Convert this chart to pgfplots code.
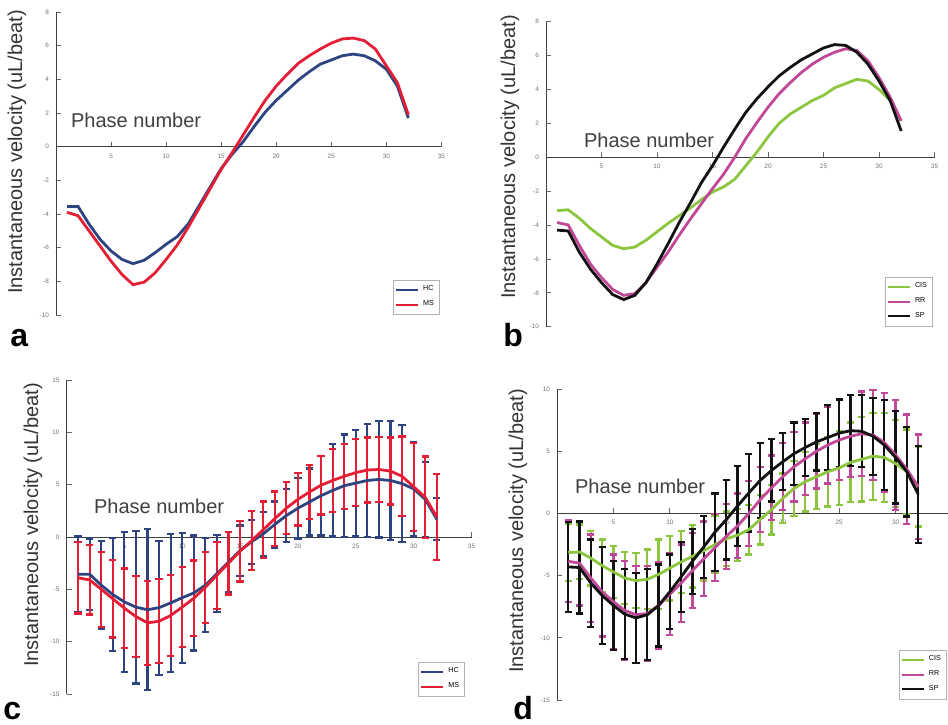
\documentclass[border=0pt]{standalone}
\usepackage{fontspec}
\setmainfont{Liberation Sans}
\usepackage{pgfplots}
\usepackage{pgfplotstable}
\pgfplotsset{compat=1.18}

\definecolor{hc}{RGB}{45,68,128}
\definecolor{ms}{RGB}{228,30,52}
\definecolor{cis}{RGB}{140,198,62}
\definecolor{rr}{RGB}{192,72,152}
\definecolor{sp}{RGB}{18,18,18}

% phase, mean and SD per group (uL/beat)
\pgfplotstableread{
x hc hce ms mse
1 -3.55 3.6 -3.9 3.4
2 -3.55 3.4 -4.1 3.3
3 -4.6 4.2 -5.0 3.6
4 -5.5 5.4 -5.9 3.7
5 -6.2 6.7 -6.8 3.8
6 -6.7 7.3 -7.6 3.9
7 -6.95 7.7 -8.2 4.0
8 -6.75 6.4 -8.05 4.0
9 -6.3 6.6 -7.5 3.9
10 -5.8 6.2 -6.7 3.8
11 -5.35 5.5 -5.85 3.6
12 -4.6 4.5 -4.8 3.4
13 -3.5 3.7 -3.65 3.2
14 -2.4 2.9 -2.5 3.0
15 -1.3 2.4 -1.35 2.9
16 -0.45 2.1 -0.35 2.8
17 0.3 2.1 0.7 2.7
18 1.2 2.2 1.75 2.6
19 2.05 2.5 2.75 2.5
20 2.75 2.9 3.6 2.5
21 3.35 3.2 4.3 2.6
22 3.95 3.8 4.95 2.8
23 4.45 4.4 5.4 3.0
24 4.9 4.9 5.8 3.1
25 5.15 5.1 6.15 3.2
26 5.4 5.4 6.4 3.1
27 5.5 5.55 6.45 3.1
28 5.4 5.7 6.3 3.2
29 5.1 5.6 5.8 3.8
30 4.6 4.5 4.8 4.2
31 3.6 3.6 3.8 3.9
32 1.7 2.0 1.9 4.1
}\groupA

\pgfplotstableread{
x cis cise rr rre sp spe
1 -3.15 2.3 -3.85 3.3 -4.3 3.6
2 -3.1 2.2 -4.0 3.4 -4.35 3.7
3 -3.6 2.2 -5.2 3.5 -5.6 3.5
4 -4.2 2.1 -6.3 3.6 -6.6 3.9
5 -4.7 2.1 -7.1 3.8 -7.4 3.6
6 -5.2 2.1 -7.8 4.0 -8.1 3.6
7 -5.4 2.2 -8.15 3.9 -8.4 3.6
8 -5.3 2.4 -8.05 3.8 -8.15 3.65
9 -4.9 2.8 -7.4 3.5 -7.4 3.3
10 -4.4 2.6 -6.5 3.3 -6.3 3.0
11 -3.9 2.5 -5.6 3.1 -5.1 2.8
12 -3.45 2.5 -4.6 3.0 -3.85 2.6
13 -3.0 2.4 -3.65 3.0 -2.7 2.5
14 -2.5 2.3 -2.75 2.7 -1.5 3.1
15 -2.05 2.2 -1.85 2.6 -0.5 3.2
16 -1.75 2.1 -1.0 2.6 0.6 3.2
17 -1.3 2.0 0.0 2.6 1.65 3.1
18 -0.5 2.0 1.1 2.6 2.65 3.0
19 0.3 2.0 2.05 2.6 3.45 2.5
20 1.2 2.0 2.95 2.7 4.15 2.3
21 2.0 2.2 3.75 2.8 4.8 2.5
22 2.55 2.4 4.4 2.9 5.3 2.3
23 2.95 2.6 5.0 3.0 5.75 2.3
24 3.35 2.8 5.5 3.1 6.1 2.6
25 3.65 3.0 5.9 3.2 6.45 2.7
26 4.1 3.2 6.2 3.3 6.65 2.85
27 4.35 3.4 6.4 3.4 6.6 2.9
28 4.6 3.5 6.3 3.6 6.2 3.1
29 4.5 3.6 5.7 4.0 5.5 3.6
30 4.0 3.5 4.7 4.4 4.5 3.7
31 3.35 3.4 3.55 4.4 3.35 3.6
32 2.15 3.2 2.15 4.2 1.55 3.9
}\groupB

\pgfplotsset{
  panel/.style={
    scale only axis, anchor=south west, clip=false,
    axis lines=middle,
    axis line style={-, black!75, line width=0.5pt},
    xmin=0, xmax=35, xtick={5,10,...,35},
    tick align=inside,
    major tick length=2.5pt,
    tick style={black!60, line width=0.4pt},
    tick label style={font=\fontsize{3.2}{4}\selectfont, text=black!55},
    /pgf/number format/assume math mode=true,
    hide obscured y ticks=false,
    legend cell align=left,
    legend image code/.code={\draw[##1, line width=1pt] (0pt,0pt) -- (11pt,0pt);},
    legend style={font=\fontsize{3.6}{4}\selectfont, draw=black!30,
      line width=0.3pt, inner sep=0.8pt, row sep=-0.6pt, anchor=north east},
  },
  curve/.style={line width=1.4pt, mark=none},
  bars/.style={forget plot, mark=none, draw=none, line width=1.1pt,
    error bars/.cd, y dir=both, y explicit,
    error bar style={draw=#1, line width=1.1pt},
    error mark options={rotate=90, draw=#1, #1, mark size=1.8pt, line width=1.1pt}},
}

\begin{document}
\begin{tikzpicture}
\useasboundingbox (0,0) rectangle (474pt,362pt);

% a
\begin{axis}[panel, at={(28pt,204.5pt)}, width=192.7pt, height=151.5pt,
  ymin=-10, ymax=8, ytick={-10,-8,...,8},
  legend style={at={(0.996,0.1155)}}]
\addplot[hc, curve] table[x=x, y=hc] {\groupA};
\addplot[ms, curve] table[x=x, y=ms] {\groupA};
\legend{HC, MS}
\end{axis}

% b
\begin{axis}[panel, at={(273pt,198.65pt)}, width=194.25pt, height=152.5pt,
  ymin=-10, ymax=8, ytick={-10,-8,...,8},
  legend style={at={(0.996,0.163)}}]
\addplot[cis, curve] table[x=x, y=cis] {\groupB};
\addplot[rr, curve] table[x=x, y=rr] {\groupB};
\addplot[sp, curve] table[x=x, y=sp] {\groupB};
\legend{CIS, RR, SP}
\end{axis}

% c
\begin{axis}[panel, at={(33.25pt,15pt)}, width=202.5pt, height=157pt,
  ymin=-15, ymax=15, ytick={-15,-10,...,15},
  legend style={at={(0.984,0.102)}}]
\addplot[bars=hc] table[x=x, y=hc, y error=hce] {\groupA};
\addplot[bars=ms] table[x=x, y=ms, y error=mse] {\groupA};
\addplot[hc, curve] table[x=x, y=hc] {\groupA};
\addplot[ms, curve] table[x=x, y=ms] {\groupA};
\legend{HC, MS}
\end{axis}

% d
\begin{axis}[panel, at={(278.5pt,12pt)}, width=197.5pt, height=155.5pt,
  ymin=-15, ymax=10, ytick={-15,-10,...,10},
  legend style={at={(0.987,0.161)}}]
\addplot[bars=cis] table[x=x, y=cis, y error=cise] {\groupB};
\addplot[bars=rr] table[x=x, y=rr, y error=rre] {\groupB};
\addplot[bars=sp] table[x=x, y=sp, y error=spe] {\groupB};
\addplot[cis, curve] table[x=x, y=cis] {\groupB};
\addplot[rr, curve] table[x=x, y=rr] {\groupB};
\addplot[sp, curve] table[x=x, y=sp] {\groupB};
\legend{CIS, RR, SP}
\end{axis}

\tikzset{ylab/.style={rotate=90, font=\fontsize{10}{12}\selectfont, text=black!80},
  phase/.style={anchor=west, font=\fontsize{10}{12}\selectfont, text=black!75},
  plab/.style={anchor=base west, font=\fontsize{16}{18}\selectfont\bfseries, inner sep=0pt}}
\node[ylab] at (8.5pt,286pt) {Instantaneous velocity (uL/beat)};
\node[ylab] at (255pt,283.5pt) {Instantaneous velocity (uL/beat)};
\node[ylab] at (16.5pt,99.5pt) {Instantaneous velocity (uL/beat)};
\node[ylab] at (259pt,96.5pt) {Instantaneous velocity (uL/beat)};
\node[phase] at (32pt,302pt) {Phase number};
\node[phase] at (288.5pt,292pt) {Phase number};
\node[phase] at (43.5pt,109pt) {Phase number};
\node[phase] at (284pt,119pt) {Phase number};
\node[plab] at (5pt,189pt) {a};
\node[plab] at (251.5pt,189pt) {b};
\node[plab] at (1.5pt,2.5pt) {c};
\node[plab] at (256.5pt,2.5pt) {d};
\end{tikzpicture}
\end{document}
